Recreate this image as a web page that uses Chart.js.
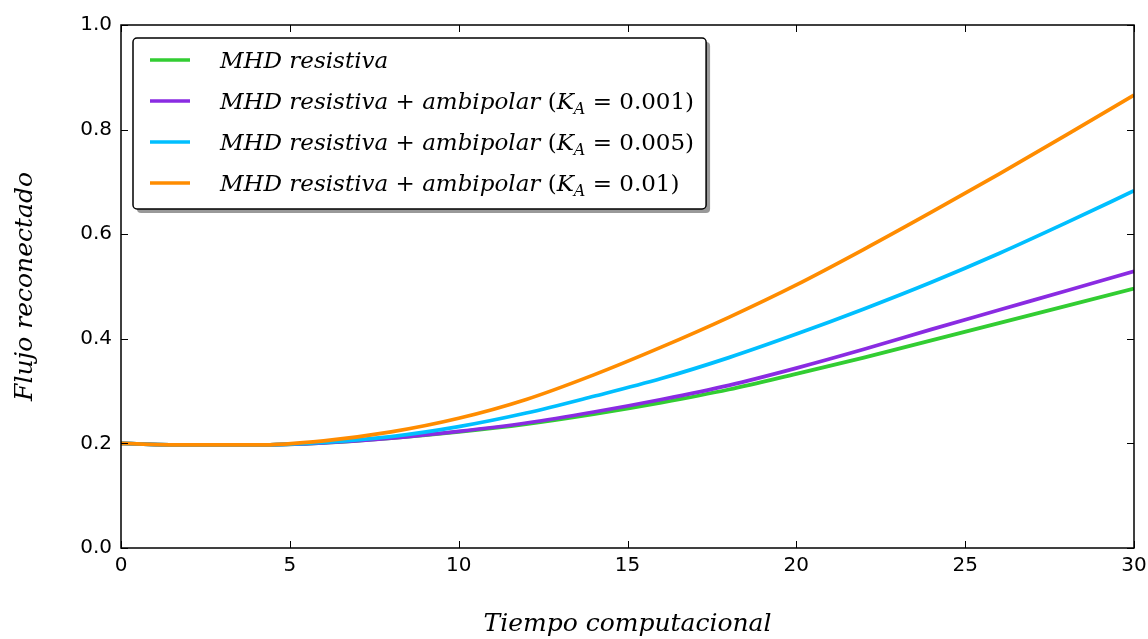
<!DOCTYPE html>
<html>
<head>
<meta charset="utf-8">
<script src="https://cdn.jsdelivr.net/npm/chart.js@4/dist/chart.umd.min.js"></script>
<style>
  html, body { margin: 0; padding: 0; background: #fff; }
  #wrap { width: 1148px; height: 639px; }
</style>
</head>
<body>
<div id="wrap"><canvas id="chart" width="1148" height="639"></canvas></div>
<script>
/* Flujo reconectado vs tiempo computacional */
const tiempo = [0, 2, 4, 6, 8, 10, 12, 14, 16, 18, 20, 22, 24, 26, 28, 30];
const resistiva = [0.200, 0.197, 0.197, 0.201, 0.210, 0.222, 0.237, 0.256, 0.278, 0.303, 0.333, 0.364, 0.397, 0.430, 0.463, 0.496];
const ambipolar001 = [0.200, 0.197, 0.197, 0.201, 0.210, 0.223, 0.239, 0.260, 0.284, 0.311, 0.344, 0.380, 0.418, 0.455, 0.492, 0.529];
const ambipolar005 = [0.200, 0.197, 0.197, 0.202, 0.213, 0.232, 0.258, 0.290, 0.324, 0.364, 0.409, 0.457, 0.508, 0.563, 0.622, 0.683];
const ambipolar01 = [0.200, 0.197, 0.197, 0.205, 0.222, 0.248, 0.284, 0.331, 0.384, 0.441, 0.503, 0.571, 0.642, 0.715, 0.790, 0.866];

const seriesLabels = [
  "MHD resistiva",
  "MHD resistiva + ambipolar (K_A = 0.001)",
  "MHD resistiva + ambipolar (K_A = 0.005)",
  "MHD resistiva + ambipolar (K_A = 0.01)",
];
const kaValues = [null, "0.001", "0.005", "0.01"];
const seriesColors = ["#32cd32", "#8a2be2", "#00bfff", "#ff8c00"];

const xTicks = [0, 5, 10, 15, 20, 25, 30];
const yTicks = [0.0, 0.2, 0.4, 0.6, 0.8, 1.0];

const MATH = "'DejaVu Serif', 'Liberation Serif', serif";
const SANS = "'DejaVu Sans', sans-serif";

function pts(ys) {
  return tiempo.map((t, i) => ({ x: t, y: ys[i] }));
}

// ticks hacia adentro en los cuatro lados + marco
const framePlugin = {
  id: "frame",
  afterDraw(chart) {
    const { ctx, chartArea: a, scales: { x, y } } = chart;
    const L = 7;
    ctx.save();
    ctx.strokeStyle = "#000";
    ctx.lineWidth = 1;
    ctx.beginPath();
    xTicks.forEach((v) => {
      const px = Math.round(x.getPixelForValue(v)) + 0.5;
      ctx.moveTo(px, a.bottom); ctx.lineTo(px, a.bottom - L);
      ctx.moveTo(px, a.top); ctx.lineTo(px, a.top + L);
    });
    yTicks.forEach((v) => {
      const py = Math.round(y.getPixelForValue(v)) + 0.5;
      ctx.moveTo(a.left, py); ctx.lineTo(a.left + L, py);
      ctx.moveTo(a.right, py); ctx.lineTo(a.right - L, py);
    });
    ctx.stroke();
    ctx.lineWidth = 1.5;
    ctx.strokeRect(a.left, a.top, a.right - a.left, a.bottom - a.top);
    ctx.restore();
  },
};

function labelParts(i) {
  const parts = [{ t: "MHD resistiva", it: true }];
  if (kaValues[i]) {
    parts.push({ t: " + ", it: false });
    parts.push({ t: "ambipolar", it: true });
    parts.push({ t: " (", it: false });
    parts.push({ t: "K", it: true });
    parts.push({ t: "A", it: true, sub: true });
    parts.push({ t: " = " + kaValues[i] + ")", it: false });
  }
  return parts;
}

function partFont(p) {
  return (p.it ? "italic " : "") + (p.sub ? 16 : 23) + "px " + MATH;
}

function roundRect(ctx, x, y, w, h, r) {
  ctx.beginPath();
  ctx.moveTo(x + r, y);
  ctx.arcTo(x + w, y, x + w, y + h, r);
  ctx.arcTo(x + w, y + h, x, y + h, r);
  ctx.arcTo(x, y + h, x, y, r);
  ctx.arcTo(x, y, x + w, y, r);
  ctx.closePath();
}

const legendPlugin = {
  id: "mathLegend",
  afterDraw(chart) {
    const { ctx, chartArea: a } = chart;
    const x0 = a.left + 12, y0 = a.top + 13;
    const rowH = 41, firstRow = 22, textX = 87;
    ctx.save();
    let maxW = 0;
    const rows = chart.data.datasets.map((ds, i) => {
      const parts = labelParts(i);
      let w = 0;
      parts.forEach((p) => { ctx.font = partFont(p); p.w = ctx.measureText(p.t).width; w += p.w; });
      maxW = Math.max(maxW, w);
      return parts;
    });
    const boxW = textX + maxW + 12;
    const boxH = 171;

    ctx.fillStyle = "rgba(0,0,0,0.4)";
    roundRect(ctx, x0 + 4, y0 + 4, boxW, boxH, 4);
    ctx.fill();
    ctx.fillStyle = "#fff";
    roundRect(ctx, x0, y0, boxW, boxH, 4);
    ctx.fill();
    ctx.strokeStyle = "#000";
    ctx.lineWidth = 1.5;
    ctx.stroke();

    chart.data.datasets.forEach((ds, i) => {
      const cy = y0 + firstRow + i * rowH;
      ctx.strokeStyle = ds.borderColor;
      ctx.lineWidth = 3.5;
      ctx.beginPath();
      ctx.moveTo(x0 + 17, cy);
      ctx.lineTo(x0 + 57, cy);
      ctx.stroke();

      let tx = x0 + textX;
      ctx.fillStyle = "#000";
      ctx.textBaseline = "alphabetic";
      rows[i].forEach((p) => {
        ctx.font = partFont(p);
        ctx.fillText(p.t, tx, cy + 8 + (p.sub ? 5 : 0));
        tx += p.w;
      });
    });
    ctx.restore();
  },
};

new Chart(document.getElementById("chart"), {
  type: "line",
  data: {
    datasets: [resistiva, ambipolar001, ambipolar005, ambipolar01].map((ys, i) => ({
      label: seriesLabels[i],
      data: pts(ys),
      borderColor: seriesColors[i],
      backgroundColor: seriesColors[i],
      borderWidth: 3.7,
      pointRadius: 0,
      fill: false,
      cubicInterpolationMode: "monotone",
      order: 3 - i,
    })),
  },
  options: {
    responsive: false,
    devicePixelRatio: 1,
    animation: false,
    layout: { padding: { top: 25, right: 14, left: 0, bottom: 0 } },
    plugins: { legend: { display: false }, tooltip: { enabled: false } },
    scales: {
      x: {
        type: "linear",
        min: 0,
        max: 30,
        afterBuildTicks: (s) => { s.ticks = xTicks.map((v) => ({ value: v })); },
        afterFit: (s) => { s.height = 91; s.paddingRight = 0; s.paddingLeft = 0; },
        ticks: { color: "#000", font: { family: SANS, size: 20 }, padding: 6, maxRotation: 0 },
        grid: { display: false, drawTicks: false },
        border: { display: false },
        title: {
          display: true,
          text: "Tiempo computacional",
          color: "#000",
          font: { family: MATH, size: 25, style: "italic" },
          padding: { top: 0, bottom: 0 },
        },
      },
      y: {
        type: "linear",
        min: 0,
        max: 1,
        afterBuildTicks: (s) => { s.ticks = yTicks.map((v) => ({ value: v })); },
        afterFit: (s) => { s.width = 121; s.paddingTop = 0; s.paddingBottom = 0; },
        ticks: { color: "#000", font: { family: SANS, size: 20 }, padding: 9, callback: (v) => v.toFixed(1) },
        grid: { display: false, drawTicks: false },
        border: { display: false },
        title: {
          display: true,
          text: "Flujo reconectado",
          color: "#000",
          font: { family: MATH, size: 25, style: "italic" },
          padding: { top: 10, bottom: 0 },
        },
      },
    },
  },
  plugins: [framePlugin, legendPlugin],
});
</script>
</body>
</html>
